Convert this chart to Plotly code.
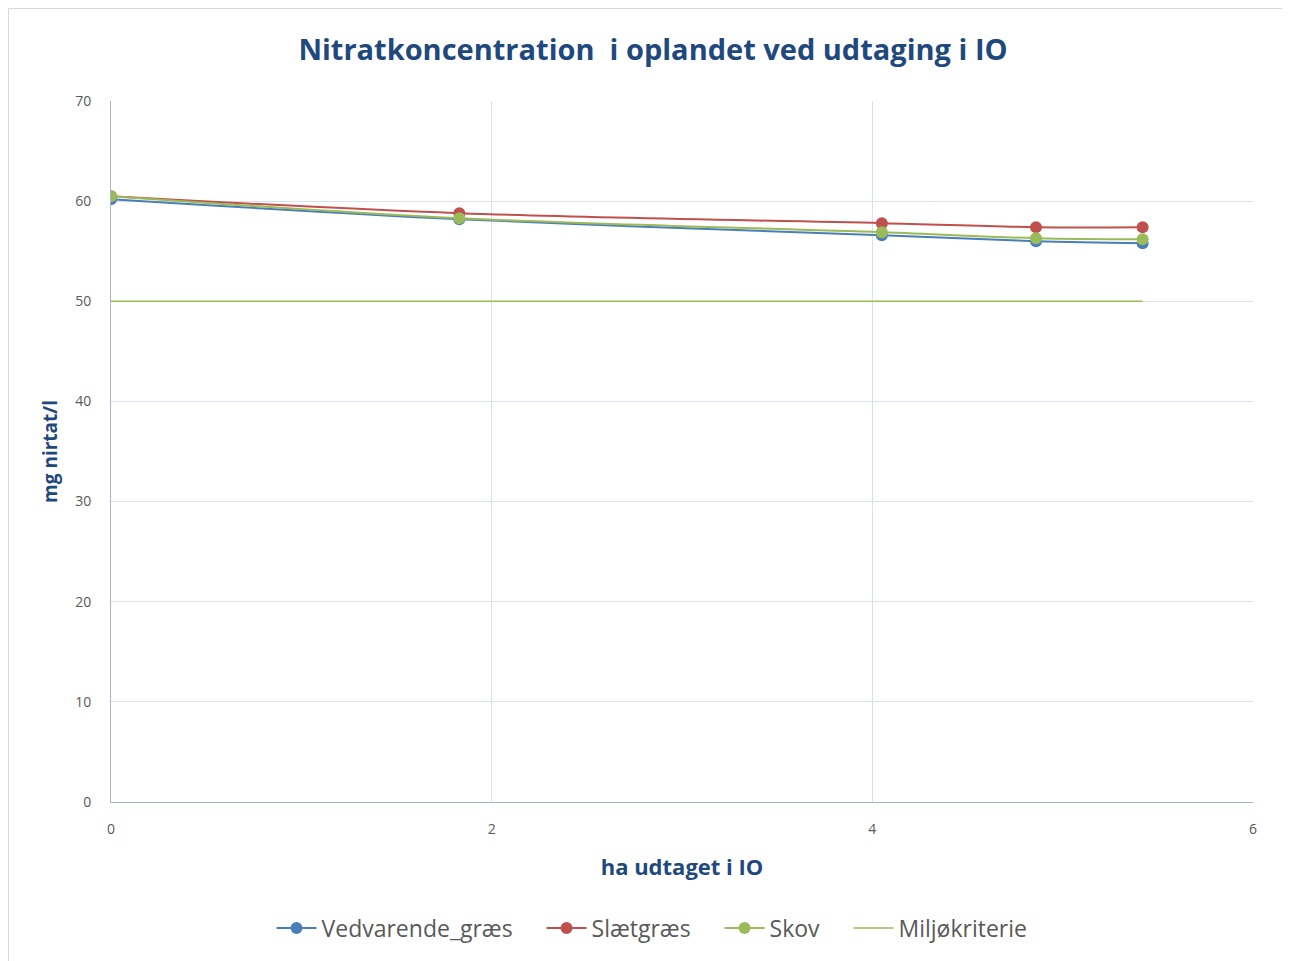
import plotly.graph_objects as go

x_ha = [0, 1.83, 4.05, 4.86, 5.42]
vedvarende = [60.2, 58.2, 56.6, 56.0, 55.8]
slaetgraes = [60.5, 58.8, 57.8, 57.4, 57.4]
skov = [60.5, 58.3, 56.9, 56.3, 56.2]
miljo_x = [0, 5.42]
miljo_y = [50, 50]
series_names = ["Vedvarende_græs", "Slætgræs", "Skov", "Miljøkriterie"]

title_color = "#1F497D"
tick_color = "#595959"
grid_color = "#D9E2EC"

L, R, T, B = 103, 45, 93, 167
W, H = 1290, 961
PW, PH = W - L - R, H - T - B
pad = "\u00a0" * 4

fig = go.Figure()
for name, ys, col in [(series_names[0], vedvarende, "#4A7EBB"),
                      (series_names[1], slaetgraes, "#C0504D"),
                      (series_names[2], skov, "#9BBB59")]:
    fig.add_trace(go.Scatter(x=x_ha, y=ys, name=name + pad, mode="lines+markers",
                             line=dict(color=col, width=2, shape="spline"),
                             marker=dict(color=col, size=12)))
fig.add_trace(go.Scatter(x=miljo_x, y=miljo_y, name=series_names[3], mode="lines",
                         line=dict(color="#9BBB59", width=1.5)))

fig.update_layout(
    width=W, height=H,
    paper_bgcolor="white", plot_bgcolor="white",
    margin=dict(l=L, r=R, t=T, b=B),
    font=dict(family="Open Sans", color=tick_color),
    title=dict(text="<b>Nitratkoncentration  i oplandet ved udtaging i IO</b>",
               x=0.5, xanchor="center", y=1 - 42 / H, yanchor="middle",
               font=dict(size=29, color=title_color, family="Open Sans")),
    legend=dict(orientation="h", x=0.5 - 30 / PW, xanchor="center",
                y=-(920 - T - PH) / PH,
                yanchor="middle", font=dict(size=23, color="#595959"),
                itemwidth=40, tracegroupgap=0),
)
fig.update_xaxes(range=[0, 6], dtick=2, showgrid=True, gridcolor=grid_color,
                 showline=True, linecolor="#A6B5C8", zeroline=False,
                 tickfont=dict(size=14, color=tick_color), ticks="",
                 ticklabelstandoff=14,
                 title=dict(text="<b>ha udtaget i IO</b>", standoff=22,
                            font=dict(size=22, color=title_color)))
fig.update_yaxes(range=[0, 70], dtick=10, showgrid=True, gridcolor=grid_color,
                 showline=True, linecolor="#A6B5C8", zeroline=False,
                 tickfont=dict(size=14, color=tick_color), ticks="",
                 ticklabelstandoff=16,
                 title=dict(text="<b>mg nirtat/l</b>", standoff=12,
                            font=dict(size=19, color=title_color)))
fig.add_shape(type="rect", xref="paper", yref="paper",
              x0=-(L - 0.5) / PW, x1=(1279 - L) / PW,
              y0=-(B + 5) / PH, y1=1 + (T - 0.5) / PH,
              line=dict(color="#D9D9D9", width=1), layer="below")
fig.write_html("out.html")
